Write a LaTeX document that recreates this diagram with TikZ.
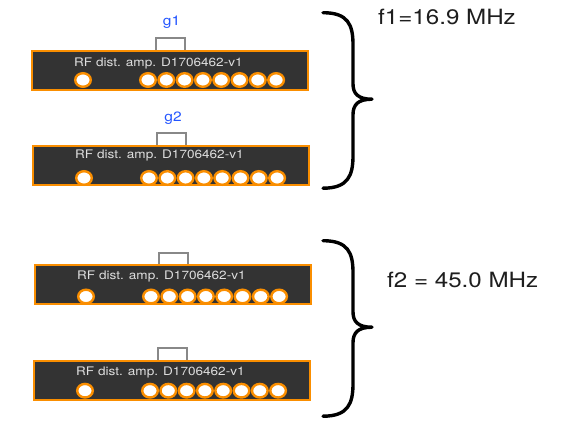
\documentclass[tikz,border=0pt]{standalone}
\usepackage{fontspec}
\setmainfont{TeX Gyre Heros}
\usetikzlibrary{shapes.geometric}
\definecolor{ampfill}{RGB}{51,51,51}
\definecolor{amporange}{RGB}{250,142,0}
\definecolor{amptxt}{RGB}{222,222,222}
\definecolor{bracketgray}{RGB}{136,136,136}
\definecolor{glabel}{RGB}{35,85,255}
\definecolor{ftxt}{RGB}{30,30,30}
\tikzset{
  ampbox/.style={rectangle, draw=amporange, fill=ampfill, line width=2.4pt,
    minimum width=275.6pt, minimum height=38.6pt, inner sep=0pt},
  amptext/.style={anchor=west, inner sep=0pt, text=amptxt,
    font=\fontsize{11.8}{13}\selectfont},
  port/.style={ellipse, draw=amporange, fill=white, line width=2.4pt,
    minimum width=15.6pt, minimum height=13.6pt, inner sep=0pt},
  bracketline/.style={draw=bracketgray, line width=2.3pt},
  glab/.style={inner sep=0pt, text=glabel, font=\fontsize{13.5}{15}\selectfont},
  flab/.style={anchor=west, inner sep=0pt, text=ftxt, font=\fontsize{21}{24}\selectfont},
  bracestyle/.style={draw=black, line width=3.4pt, line cap=round, line join=round}
}
\newcommand\ampstr{\scalebox{1.15}[1]{RF dist. amp. D1706462-v1}}
% #1 name, #2 left, #3 top, #4 text offset, #5 port offset, #6 bracket height
\newcommand\ampunit[6]{%
  \coordinate (#1bl) at ({#2+125},{#3+1});
  \coordinate (#1br) at ({#2+154},{#3+1});
  \draw[bracketline] (#1bl) -- ++(0,{-#6}) -| (#1br);
  \node[ampbox] (#1) at ({#2+139},{#3+20.5}) {};
  \node[amptext] (#1t) at ({#2+43},{#3+#4}) {\ampstr};
  \node[port] (#1p0) at ({#2+52},{#3+#5}) {};
  \foreach \k in {1,...,8}{
    \node[port] (#1p\k) at ({#2+117+18.3*(\k-1)},{#3+#5}) {};
  }
}
% #1 name, #2 top y
\newcommand\bracepath[2]{%
  \coordinate (#1top) at (323,{#2});
  \coordinate (#1tip) at (372,{#2+86.5});
  \coordinate (#1bot) at (323,{#2+175.5});
  \draw[bracestyle] (#1top) .. controls (348,{#2}) and (353,{#2+12}) .. (353,{#2+32})
    -- (353,{#2+71}) .. controls (353,{#2+81}) and (358,{#2+86.5}) .. (#1tip)
    .. controls (358,{#2+86.5}) and (353,{#2+92}) .. (353,{#2+102})
    -- (353,{#2+143}) .. controls (353,{#2+163}) and (348,{#2+175.5}) .. (#1bot);
}
\begin{document}
\begin{tikzpicture}[x=1pt,y=-1pt]
  \fill[white] (0,0) rectangle (561,428);
  \useasboundingbox (0,0) rectangle (561,428);
  \ampunit{a1}{31}{50}{13.3}{30}{13}
  \ampunit{a2}{32}{145}{10.5}{33}{13}
  \ampunit{a3}{34}{264}{12.8}{32.5}{12}
  \ampunit{a4}{33}{360}{12.5}{30.7}{13}
  \node[glab] (g1) at (171.5,22.5) {\scalebox{1.15}[1]{g1}};
  \node[glab] (g2) at (173,118) {\scalebox{1.15}[1]{g2}};
  \bracepath{br1}{12.7}
  \bracepath{br2}{240.7}
  \node[flab] (f1) at (378,17) {\scalebox{1.15}[1]{f1=16.9 MHz}};
  \node[flab] (f2) at (387,280) {\scalebox{1.15}[1]{f2 = 45.0 MHz}};
\end{tikzpicture}
\end{document}
